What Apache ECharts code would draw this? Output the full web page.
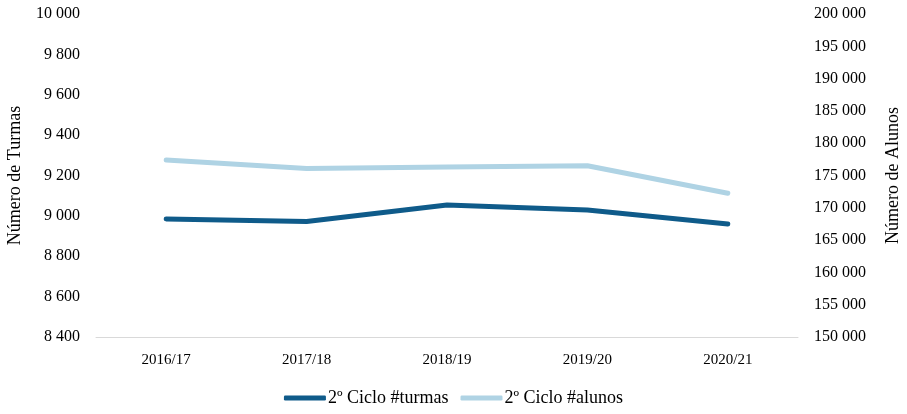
<!DOCTYPE html>
<html>
<head>
<meta charset="utf-8">
<script src="https://cdn.jsdelivr.net/npm/echarts@6/dist/echarts.min.js"></script>
<style>
  html, body { margin: 0; padding: 0; background: #fff; }
  #chart { width: 907px; height: 414px; }
</style>
</head>
<body>
<div id="chart"></div>
<script>
const categories = ['2016/17', '2017/18', '2018/19', '2019/20', '2020/21'];
const turmas = [8985, 8972, 9054, 9029, 8960];
const alunos = [177400, 176100, 176300, 176500, 172250];
const seriesNames = ['2º Ciclo #turmas', '2º Ciclo #alunos'];

const fontFam = '"Liberation Serif", "DejaVu Serif", serif';
const fmt = v => String(v).replace(/\B(?=(\d{3})+(?!\d))/g, ' ');

const chart = echarts.init(document.getElementById('chart'));
chart.setOption({
    animation: false,
    textStyle: { fontFamily: fontFam, color: '#000' },
    grid: { left: 96, right: 109, top: 14, bottom: 77, outerBoundsMode: 'none', containLabel: false },
    legend: {
        bottom: 2,
        left: 'center',
        itemWidth: 42,
        itemHeight: 5,
        itemGap: 12,
        icon: 'roundRect',
        textStyle: { fontFamily: fontFam, fontSize: 18, color: '#000', padding: [0, 0, 0, -3] },
        data: seriesNames
    },
    xAxis: {
        type: 'category',
        data: categories,
        axisLine: { lineStyle: { color: '#d9d9d9', width: 1 } },
        axisTick: { show: false },
        axisLabel: { fontSize: 15, color: '#000', margin: 16, fontFamily: fontFam }
    },
    yAxis: [
        {
            type: 'value',
            min: 8400, max: 10000, interval: 200,
            name: 'Número de Turmas',
            nameLocation: 'middle',
            nameGap: 72,
            nameTextStyle: { fontSize: 18, color: '#000', fontFamily: fontFam },
            splitLine: { show: false },
            axisLine: { show: false },
            axisTick: { show: false },
            axisLabel: { fontSize: 16, color: '#000', margin: 16, formatter: fmt, fontFamily: fontFam }
        },
        {
            type: 'value',
            min: 150000, max: 200000, interval: 5000,
            name: 'Número de Alunos',
            nameLocation: 'middle',
            nameGap: 86,
            nameRotate: 90,
            nameTextStyle: { fontSize: 18, color: '#000', fontFamily: fontFam },
            splitLine: { show: false },
            axisLine: { show: false },
            axisTick: { show: false },
            axisLabel: { fontSize: 16, color: '#000', margin: 16, formatter: fmt, fontFamily: fontFam }
        }
    ],
    series: [
        {
            name: seriesNames[0],
            type: 'line',
            yAxisIndex: 0,
            data: turmas,
            symbol: 'none',
            color: '#0f5b8a',
            lineStyle: { width: 5, cap: 'round', join: 'round' }
        },
        {
            name: seriesNames[1],
            type: 'line',
            yAxisIndex: 1,
            data: alunos,
            symbol: 'none',
            color: '#afd3e4',
            lineStyle: { width: 5, cap: 'round', join: 'round' }
        }
    ]
});
</script>
</body>
</html>
